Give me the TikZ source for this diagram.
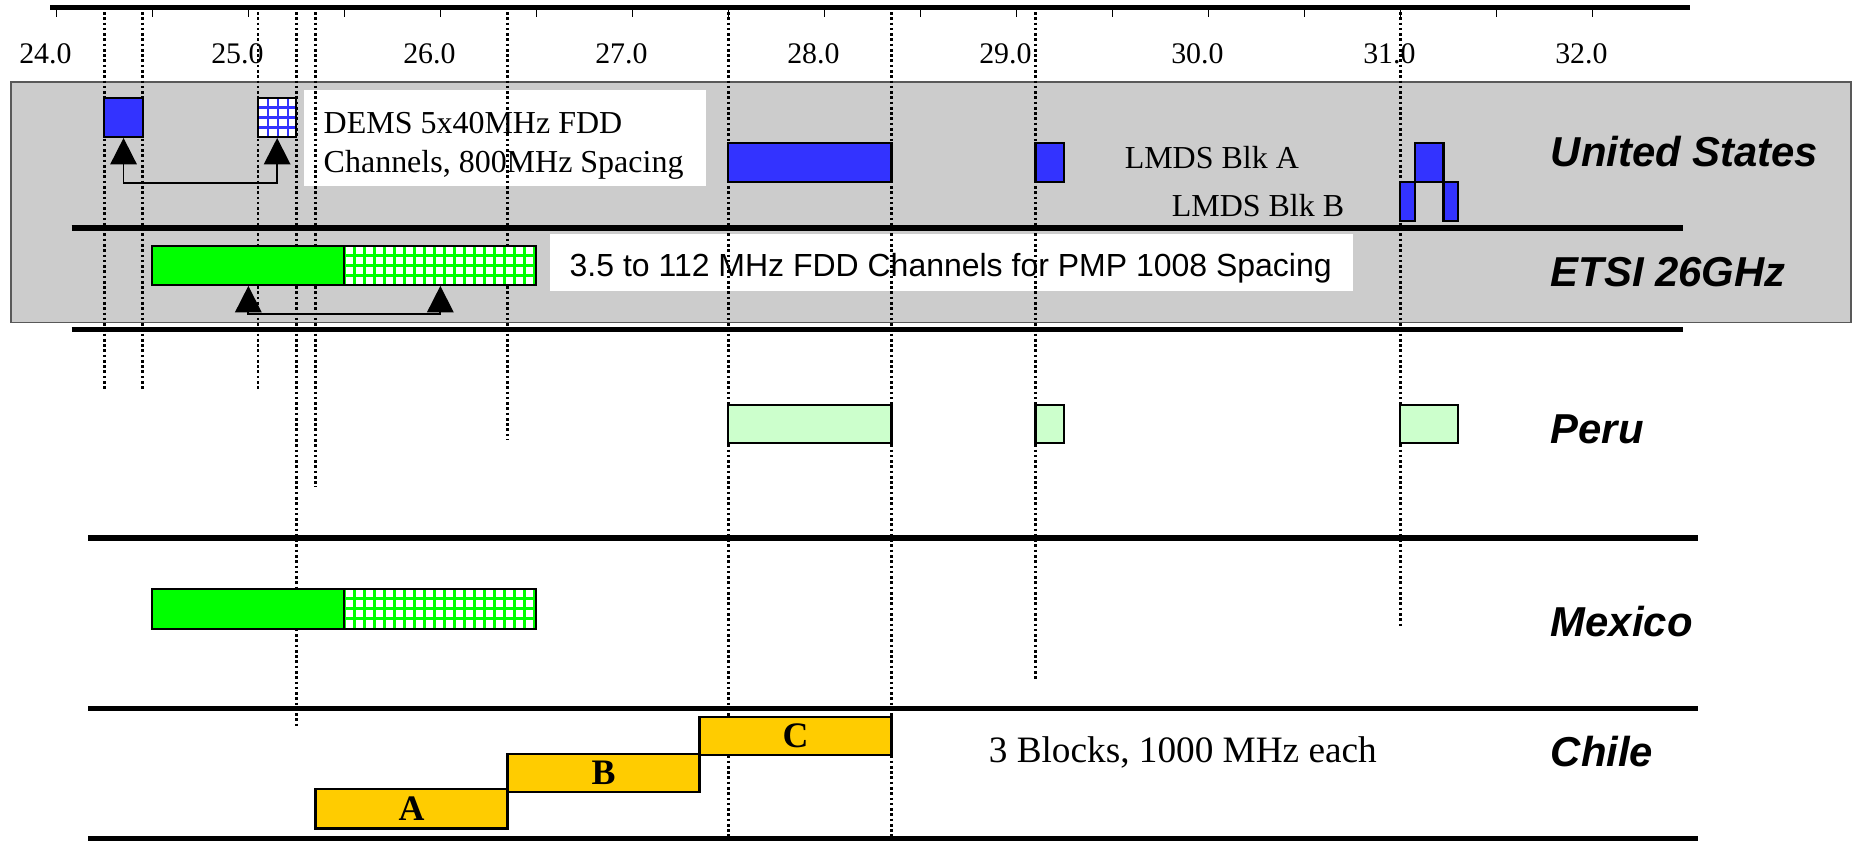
\documentclass[tikz,border=0pt]{standalone}
\usepackage{fontspec}
\setmainfont{Liberation Serif}
\setsansfont{Liberation Sans}
\usetikzlibrary{arrows.meta, fit}
\definecolor{bandgray}{HTML}{CCCCCC}
\definecolor{usblue}{HTML}{3333FF}
\definecolor{etsigreen}{HTML}{00FF00}
\definecolor{perugreen}{HTML}{CCFFCC}
\definecolor{chilegold}{HTML}{FFCC00}

\begin{document}
\begin{tikzpicture}[
    x=1.92cm, y=-0.01cm,
    blk/.style={draw, line width=0.6pt, fill=#1, inner sep=0pt},
    hatch/.style={blk=white, path picture={
        \draw[#1, line width=0.75pt] (path picture bounding box.south west)
            grid[step=1mm] (path picture bounding box.north east);}},
    wbox/.style={fill=white, inner sep=0pt},
    vline/.style={line width=0.75pt, dash pattern=on 0.75pt off 0.75pt},
    sep/.style={line width=1.6pt},
    arr/.style={{Triangle[length=7.5pt, width=7.5pt]}-{Triangle[length=7.5pt, width=7.5pt]}, line width=0.5pt},
    axlbl/.style={font=\fontsize{8.5}{10}\selectfont, anchor=base, inner sep=0pt},
    note/.style={font=\fontsize{9.1}{10.9}\selectfont, inner sep=0pt},
    country/.style={font=\sffamily\bfseries\itshape\fontsize{11.9}{14}\selectfont,
                    anchor=base west, inner sep=0pt},
    blklbl/.style={font=\bfseries\fontsize{10.2}{12}\selectfont, inner sep=0pt},
]
\useasboundingbox[fill=white] (23.7068,0) rectangle (33.3631,841);

% Shaded band (US + ETSI)
\node[fill=bandgray, draw=black!65, line width=0.4pt, inner sep=0pt,
      fit={(23.764,82) (33.3474,322.5)}] (band) {};

% Note boxes
\node[wbox, fit={(25.290,90) (27.384,186)}] (demsbox) {};
\node[note, align=left, anchor=north west] (demsnote) at (25.389,112)
    {DEMS 5x40MHz FDD\\Channels, 800MHz Spacing};
\node[wbox, fit={(26.571,234) (30.754,291)}] (etsibox) {};
\node[note, font=\sffamily\fontsize{9.1}{10.9}\selectfont, anchor=base west] (etsinote)
    at (26.670,276.7) {3.5 to 112 MHz FDD Channels for PMP 1008 Spacing};

% Band edges
\foreach \f/\ybot in {24.25/390, 24.45/390, 25.05/390, 25.25/726, 25.35/487,
                      26.35/440, 27.5/838, 28.35/838, 29.1/681, 31.0/628}
    \draw[vline] (\f,12) -- (\f,\ybot);

% United States
\node[blk=usblue,   fit={(24.25,98) (24.45,137)}]    (dems1)  {};
\node[hatch=usblue, fit={(25.05,98) (25.25,137)}]    (dems2)  {};
\node[blk=usblue,   fit={(27.5,143) (28.35,182)}]    (lmdsA1) {};
\node[blk=usblue,   fit={(29.1,143) (29.25,182)}]    (lmdsA2) {};
\node[blk=usblue,   fit={(31.075,143) (31.225,182)}] (lmdsA3) {};
\node[blk=usblue,   fit={(31.0,182) (31.075,221)}]   (lmdsB1) {};
\node[blk=usblue,   fit={(31.225,182) (31.3,221)}]   (lmdsB2) {};
\draw[arr] (dems1.south) -- ++(0,44.7) -| (dems2.south);
\node[note, anchor=base west] (lmdsA) at (29.561,168.3) {LMDS Blk A};
\node[note, anchor=base west] (lmdsB) at (29.806,216.7) {LMDS Blk B};

% ETSI 26GHz
\node[blk=etsigreen,   fit={(24.5,246) (25.5,285)}] (etsi1) {};
\node[hatch=etsigreen, fit={(25.5,246) (26.5,285)}] (etsi2) {};
\draw[arr] (etsi1.south) -- ++(0,28.3) -| (etsi2.south);

% Peru
\node[blk=perugreen, fit={(27.5,405) (28.35,443)}] (peru1) {};
\node[blk=perugreen, fit={(29.1,405) (29.25,443)}] (peru2) {};
\node[blk=perugreen, fit={(31.0,405) (31.3,443)}]  (peru3) {};

% Mexico
\node[blk=etsigreen,   fit={(24.5,589) (25.5,629)}] (mex1) {};
\node[hatch=etsigreen, fit={(25.5,589) (26.5,629)}] (mex2) {};

% Chile
\node[blk=chilegold, fit={(25.35,789) (26.35,829)}] (chA) {};
\node[blk=chilegold, fit={(26.35,754) (27.35,792)}] (chB) {};
\node[blk=chilegold, fit={(27.35,717) (28.35,755)}] (chC) {};
\node[blklbl] (labA) at (chA) {A};
\node[blklbl] (labB) at (chB) {B};
\node[blklbl] (labC) at (chC) {C};
\node[note, font=\fontsize{10.6}{12}\selectfont, anchor=base west] (chnote)
    at (28.853,763.3) {3 Blocks, 1000 MHz each};

% Row separators
\draw[sep] (24.079,228) -- (32.472,228);
\draw[sep] (24.079,329.5) -- (32.472,329.5);
\draw[sep] (24.165,538) -- (32.55,538);
\draw[sep] (24.165,709) -- (32.55,709);
\draw[sep] (24.165,839) -- (32.55,839);

% Frequency axis
\draw[line width=1.5pt] (23.967,7.5) -- (32.509,7.5);
\foreach \t in {24,24.5,...,32}
    \draw[line width=0.4pt] (\t,6) -- (\t,17);
\foreach \v in {24,...,32}
    \node[axlbl] (ax\v) at (\v-0.057,63.3) {\v.0};

% Country labels
\node[country] (us)     at (31.78,167)   {United States};
\node[country] (etsi)   at (31.78,286.5) {ETSI 26GHz};
\node[country] (peru)   at (31.78,444)   {Peru};
\node[country] (mexico) at (31.78,636.5) {Mexico};
\node[country] (chile)  at (31.78,766.5) {Chile};
\end{tikzpicture}
\end{document}
